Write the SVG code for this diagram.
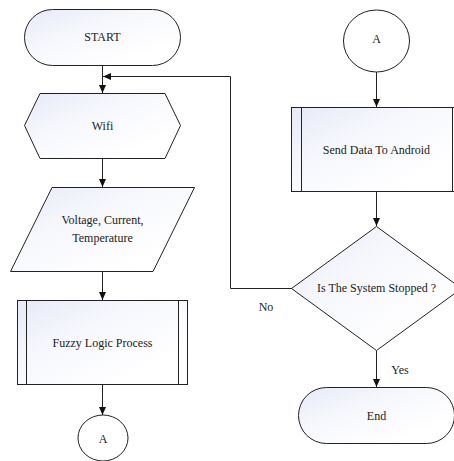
<svg xmlns="http://www.w3.org/2000/svg" width="454" height="461" viewBox="0 0 454 461">
  <defs>
    <linearGradient id="fill" x1="0" y1="0" x2="1" y2="1">
      <stop offset="0" stop-color="#e6eaf7"/>
      <stop offset="0.35" stop-color="#f6f7fc"/>
      <stop offset="0.8" stop-color="#ffffff"/>
    </linearGradient>
    <marker id="arrow" viewBox="0 0 8 8" refX="8" refY="4" markerWidth="8" markerHeight="8" markerUnits="userSpaceOnUse" orient="auto">
      <path d="M0,0.5 L8,4 L0,7.5 Z" fill="#111"/>
    </marker>
  </defs>
  <style>
    .shape { fill: url(#fill); stroke: #222; stroke-width: 1; }
    .plain { fill: #fff; stroke: #222; stroke-width: 1; }
    .edge { fill: none; stroke: #222; stroke-width: 1; marker-end: url(#arrow); }
    .bar { stroke: #222; stroke-width: 1; }
    .label { font-family: 'Liberation Serif', 'DejaVu Serif', serif; font-size: 12px; fill: #222; text-anchor: middle; }
  </style>
  <rect width="454" height="461" fill="#fff"/>

  <g id="connectors">
    <line class="edge" x1="102.5" y1="65" x2="102.5" y2="93"/>
    <polyline class="edge" points="292,288.5 230.5,288.5 230.5,76.5 103,76.5"/>
    <line class="edge" x1="102.5" y1="158" x2="102.5" y2="187"/>
    <line class="edge" x1="102.5" y1="271" x2="102.5" y2="300"/>
    <line class="edge" x1="102.5" y1="384" x2="102.5" y2="415"/>
    <line class="edge" x1="376.5" y1="72" x2="376.5" y2="107"/>
    <line class="edge" x1="376.5" y1="191" x2="376.5" y2="226"/>
    <line class="edge" x1="376.5" y1="351" x2="376.5" y2="387"/>
  </g>

  <g id="start">
    <rect class="shape" x="24.5" y="9.5" width="156" height="56" rx="28" ry="28"/>
    <text class="label" x="102.5" y="41">START</text>
  </g>

  <g id="wifi">
    <polygon class="shape" points="40,93.5 165,93.5 180.5,125.5 165,158.5 40,158.5 24.5,125.5"/>
    <text class="label" x="102.5" y="130">Wifi</text>
  </g>

  <g id="inputs">
    <polygon class="shape" points="52,187.5 194.5,187.5 153,271.5 10.5,271.5"/>
    <text class="label" x="102.5" y="224">Voltage, Current,</text>
    <text class="label" x="102.5" y="242">Temperature</text>
  </g>

  <g id="fuzzy">
    <rect class="shape" x="17.5" y="300.5" width="170" height="84"/>
    <line class="bar" x1="26.5" y1="300.5" x2="26.5" y2="384.5"/>
    <line class="bar" x1="178.5" y1="300.5" x2="178.5" y2="384.5"/>
    <text class="label" x="102.5" y="347">Fuzzy Logic Process</text>
  </g>

  <g id="connector-a-out">
    <ellipse class="plain" cx="103" cy="438" rx="25" ry="23"/>
    <text class="label" x="103" y="443" font-size="11">A</text>
  </g>

  <g id="connector-a-in">
    <ellipse class="plain" cx="376.5" cy="41" rx="33" ry="31"/>
    <text class="label" x="376.5" y="43" font-size="11">A</text>
  </g>

  <g id="send">
    <rect class="shape" x="291.5" y="107.5" width="170" height="84"/>
    <line class="bar" x1="301.5" y1="107.5" x2="301.5" y2="191.5"/>
    <line class="bar" x1="452.5" y1="107.5" x2="452.5" y2="191.5"/>
    <text class="label" x="376.5" y="154">Send Data To Android</text>
  </g>

  <g id="decision">
    <polygon class="shape" points="376.5,226.5 461.5,288.5 376.5,350.5 291.5,288.5"/>
    <text class="label" x="376.5" y="292">Is The System Stopped ?</text>
  </g>

  <g id="labels">
    <text class="label" x="266" y="311">No</text>
    <text class="label" x="400" y="374">Yes</text>
  </g>

  <g id="end">
    <rect class="shape" x="298.5" y="387.5" width="156" height="56" rx="28" ry="28"/>
    <text class="label" x="376.5" y="420">End</text>
  </g>
</svg>
